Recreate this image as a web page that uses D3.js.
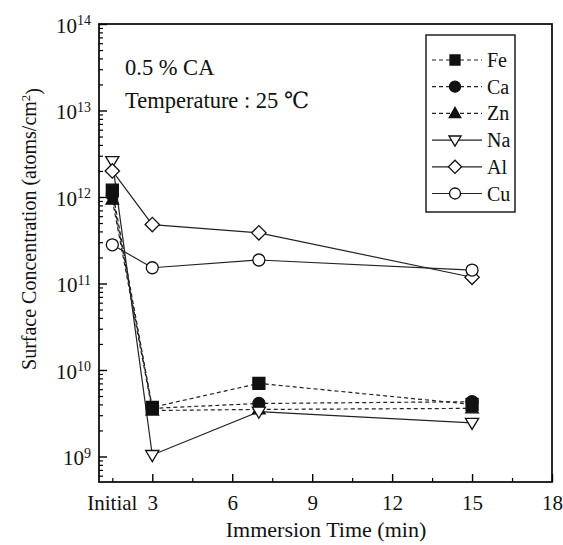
<!DOCTYPE html>
<html>
<head>
<meta charset="utf-8">
<script src="https://cdn.jsdelivr.net/npm/d3@7"></script>
<style>
  body { margin: 0; background: #fff; }
  text { font-family: "Liberation Serif", "DejaVu Serif", serif; fill: #111; }
</style>
</head>
<body>
<svg id="chart" width="563" height="545"></svg>
<script>
// data
const times = [1.5, 3, 7, 15];
const xTicks = [3, 6, 9, 12, 15, 18];
const xMinor = [1.5, 4.5, 7.5, 10.5, 13.5, 16.5];
const yExponents = [9, 10, 11, 12, 13, 14];

const fe = [1.2e12, 3.7e9, 7.0e9, 4.0e9];
const ca = [1.05e12, 3.6e9, 4.1e9, 4.3e9];
const zn = [9.3e11, 3.4e9, 3.5e9, 3.6e9];
const na = [2.6e12, 1.04e9, 3.3e9, 2.45e9];
const al = [2.0e12, 4.8e11, 3.85e11, 1.18e11];
const cu = [2.8e11, 1.52e11, 1.87e11, 1.43e11];

const series = [
  { name: 'Fe', values: fe, symbol: 'square', filled: true, dashed: true },
  { name: 'Ca', values: ca, symbol: 'circle', filled: true, dashed: true },
  { name: 'Zn', values: zn, symbol: 'triangle', filled: true, dashed: true },
  { name: 'Na', values: na, symbol: 'down', filled: false, dashed: false },
  { name: 'Al', values: al, symbol: 'diamond', filled: false, dashed: false },
  { name: 'Cu', values: cu, symbol: 'circle', filled: false, dashed: false }
];

const svg = d3.select('#chart');
const margin = { left: 99, right: 11, top: 24, bottom: 63 };
const width = 563, height = 545;

const x = d3.scaleLinear().domain([1, 18]).range([margin.left, width - margin.right]);
const y = d3.scaleLog().domain([Math.pow(10, 8.705), 1e14]).range([height - margin.bottom, margin.top]);

// symbol path at (0,0)
const symbolPath = (type, s) => {
  if (type === 'square') return `M${-s},${-s}H${s}V${s}H${-s}Z`;
  if (type === 'triangle') return `M0,${-s * 1.1}L${s * 1.05},${s * 0.75}H${-s * 1.05}Z`;
  if (type === 'down') return `M0,${s * 1.1}L${s * 1.1},${-s * 0.75}H${-s * 1.1}Z`;
  if (type === 'diamond') return `M0,${-s * 1.2}L${s * 1.2},0L0,${s * 1.2}L${-s * 1.2},0Z`;
  return d3.arc()({ innerRadius: 0, outerRadius: s, startAngle: 0, endAngle: 2 * Math.PI });
};

// frame
svg.append('rect')
  .attr('x', margin.left).attr('y', margin.top)
  .attr('width', width - margin.left - margin.right)
  .attr('height', height - margin.top - margin.bottom)
  .attr('fill', 'none').attr('stroke', '#111').attr('stroke-width', 1.8);

// x axis, ticks pointing in
const xAxis = svg.append('g')
  .attr('transform', `translate(0,${height - margin.bottom})`)
  .call(d3.axisBottom(x).tickValues(xTicks).tickSize(-8).tickPadding(13));
xAxis.select('.domain').remove();
xAxis.selectAll('text').attr('font-size', 21).attr('dy', '0.7em');
xAxis.selectAll('line').attr('stroke-width', 1.4);

const xAxisMinor = svg.append('g')
  .attr('transform', `translate(0,${height - margin.bottom})`)
  .call(d3.axisBottom(x).tickValues(xMinor).tickSize(-4).tickFormat(''));
xAxisMinor.select('.domain').remove();
xAxisMinor.selectAll('line').attr('stroke-width', 1.2);

svg.append('text')
  .attr('x', x(1.5)).attr('y', height - margin.bottom + 28)
  .attr('text-anchor', 'middle').attr('font-size', 21)
  .text('Initial');

// y axis, ticks pointing in
const yMajor = yExponents.map(e => Math.pow(10, e));
const yMinor = [];
yExponents.forEach(e => {
  for (let k = 2; k <= 9; k++) {
    const v = k * Math.pow(10, e - 1);
    if (v >= y.domain()[0] && v <= 1e14) yMinor.push(v);
  }
});

const yAxis = svg.append('g')
  .attr('transform', `translate(${margin.left},0)`)
  .call(d3.axisLeft(y).tickValues(yMajor).tickSize(-8).tickFormat(''));
yAxis.select('.domain').remove();
yAxis.selectAll('line').attr('stroke-width', 1.4);

const yAxisMinor = svg.append('g')
  .attr('transform', `translate(${margin.left},0)`)
  .call(d3.axisLeft(y).tickValues(yMinor).tickSize(-4).tickFormat(''));
yAxisMinor.select('.domain').remove();
yAxisMinor.selectAll('line').attr('stroke-width', 1.2);

// power-of-ten labels
yAxis.selectAll('.tick').each(function(d) {
  const t = d3.select(this).append('text')
    .attr('x', -8).attr('y', 0).attr('dy', '0.4em')
    .attr('text-anchor', 'end').attr('font-size', 21).attr('fill', '#111');
  t.append('tspan').text('10');
  t.append('tspan').attr('dy', '-0.55em').attr('font-size', 14).text(Math.round(Math.log10(d)));
});

// axis titles
svg.append('text')
  .attr('x', 326)
  .attr('y', height - 8)
  .attr('text-anchor', 'middle').attr('font-size', 22)
  .text('Immersion Time (min)');

const yTitle = svg.append('text')
  .attr('transform', 'translate(36,229) rotate(-90)')
  .attr('text-anchor', 'middle').attr('font-size', 20);
yTitle.append('tspan').text('Surface Concentration (atoms/cm');
yTitle.append('tspan').attr('dy', '-0.5em').attr('font-size', 13).text('2');
yTitle.append('tspan').attr('dy', '0.5em').text(')');

// annotations
svg.append('text').attr('x', 125).attr('y', 75).attr('font-size', 22.5).text('0.5 % CA');
svg.append('text').attr('x', 125).attr('y', 108).attr('font-size', 22.5).text('Temperature : 25 \u2103');

// lines
const line = d3.line().x((d, i) => x(times[i])).y(d => y(d));
svg.selectAll('.series-line').data(series).join('path')
  .attr('class', 'series-line')
  .attr('d', d => line(d.values))
  .attr('fill', 'none')
  .attr('stroke', '#222')
  .attr('stroke-width', 1.2)
  .attr('stroke-dasharray', d => d.dashed ? '4,3' : null);

// markers
series.forEach(s => {
  svg.selectAll(`.mk-${s.name}`).data(s.values).join('path')
    .attr('class', `mk-${s.name}`)
    .attr('transform', (d, i) => `translate(${x(times[i])},${y(d)})`)
    .attr('d', symbolPath(s.symbol, 6))
    .attr('fill', s.filled ? '#111' : '#fff')
    .attr('stroke', '#111')
    .attr('stroke-width', 1.3);
});

// legend
const legend = svg.append('g').attr('transform', 'translate(426,35)');
legend.append('rect')
  .attr('width', 89).attr('height', 177)
  .attr('fill', '#fff').attr('stroke', '#111').attr('stroke-width', 1.4);
const item = legend.selectAll('.item').data(series).join('g')
  .attr('class', 'item')
  .attr('transform', (d, i) => `translate(0,${25 + i * 26.7})`);
item.append('line')
  .attr('x1', 6).attr('x2', 56)
  .attr('stroke', '#222').attr('stroke-width', 1.2)
  .attr('stroke-dasharray', d => d.dashed ? '4,3' : null);
item.append('path')
  .attr('transform', 'translate(29,0)')
  .attr('d', d => symbolPath(d.symbol, d.symbol === 'square' ? 5 : 5.5))
  .attr('fill', d => d.filled ? '#111' : '#fff')
  .attr('stroke', '#111').attr('stroke-width', 1.3);
item.append('text')
  .attr('x', 61).attr('dy', '0.35em').attr('font-size', 20)
  .text(d => d.name);
</script>
</body>
</html>
